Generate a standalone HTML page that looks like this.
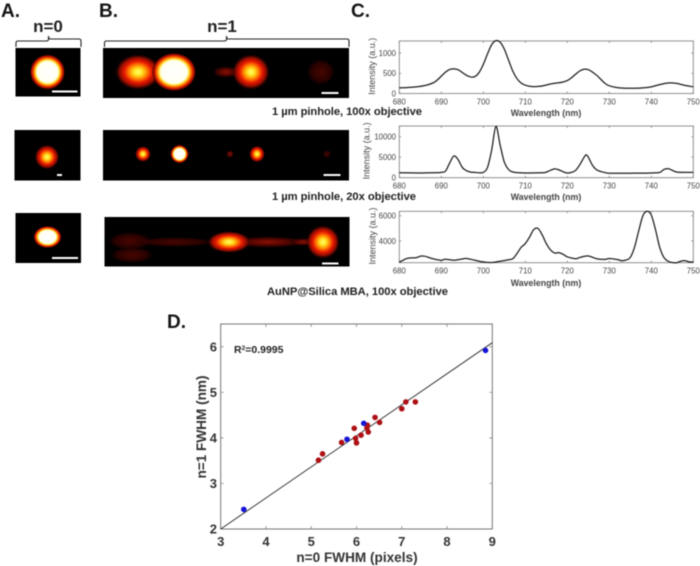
<!DOCTYPE html>
<html lang="en">
<head>
<meta charset="utf-8">
<title>Plasmonic nanoparticle imaging and spectra figure</title>
<style>
html,body{margin:0;padding:0;background:#fff;width:700px;height:566px;overflow:hidden}
svg{display:block;filter:blur(.4px)}
text{font-family:"Liberation Sans",Arial,sans-serif}
</style>
</head>
<body>
<svg id="fig" xmlns="http://www.w3.org/2000/svg" width="700" height="566" viewBox="0 0 700 566">
<defs>
<radialGradient id="sat"><stop offset="0" stop-color="#fff"/><stop offset=".6" stop-color="#fffff0"/><stop offset=".68" stop-color="#ffe840"/><stop offset=".76" stop-color="#ff8a00"/><stop offset=".86" stop-color="#e01c00"/><stop offset=".95" stop-color="#6a0800"/><stop offset="1" stop-color="#200" stop-opacity="0"/></radialGradient>
<radialGradient id="yel"><stop offset="0" stop-color="#ffff70"/><stop offset=".2" stop-color="#ffe020"/><stop offset=".4" stop-color="#ff8000"/><stop offset=".6" stop-color="#e81800"/><stop offset=".8" stop-color="#8a0c00"/><stop offset="1" stop-color="#200" stop-opacity="0"/></radialGradient>
<radialGradient id="org"><stop offset="0" stop-color="#ff5000"/><stop offset=".4" stop-color="#b81000"/><stop offset=".75" stop-color="#500400"/><stop offset="1" stop-color="#200" stop-opacity="0"/></radialGradient>
<radialGradient id="dim"><stop offset="0" stop-color="#8a1004"/><stop offset=".6" stop-color="#480400"/><stop offset="1" stop-color="#200" stop-opacity="0"/></radialGradient>
<radialGradient id="faint"><stop offset="0" stop-color="#560600" stop-opacity=".85"/><stop offset=".7" stop-color="#3a0300" stop-opacity=".7"/><stop offset="1" stop-color="#200" stop-opacity="0"/></radialGradient>
</defs>
<rect width="700" height="566" fill="#fff"/>

<g fill="#151515" font-weight="700" font-size="19">
<text x="1" y="17">A.</text>
<text x="99" y="17">B.</text>
<text x="351" y="17">C.</text>
<text x="167" y="328">D.</text>
</g>
<text x="48" y="32" text-anchor="middle" font-size="17" font-weight="700" fill="#222">n=0</text>
<text x="222" y="32" text-anchor="middle" font-size="17" font-weight="700" fill="#222">n=1</text>
<path d="M16,47V43q0-2 2-2H46.5q2,0 2-2V36q0,3 2,3H79q2,0 2,2V47" fill="none" stroke="#222" stroke-width="1.1"/>
<path d="M104.5,47V43q0-2 2-2H224.5q2,0 2-2V36q0,3 2,3H347q2,0 2,2V47" fill="none" stroke="#222" stroke-width="1.1"/>

<g>
<rect x="15.5" y="48" width="65" height="48.5" fill="#000"/>
<ellipse cx="47.5" cy="72" rx="17.5" ry="17.5" fill="url(#sat)"/>
<rect x="52" y="90.5" width="25.5" height="2" fill="#fff"/>
</g>
<g>
<rect x="103" y="48" width="246" height="50" fill="#000"/>
<ellipse cx="138" cy="72" rx="23" ry="18" fill="url(#yel)"/>
<ellipse cx="226" cy="72" rx="14" ry="6" fill="url(#dim)"/>
<ellipse cx="174" cy="72" rx="22" ry="19" fill="url(#sat)"/>
<ellipse cx="251" cy="72" rx="19" ry="18" fill="url(#yel)"/>
<ellipse cx="321" cy="72" rx="14" ry="13" fill="url(#faint)"/>
<rect x="321.5" y="92" width="17" height="2" fill="#fff"/>
</g>
<g>
<rect x="14.5" y="130" width="66" height="50.5" fill="#000"/>
<ellipse cx="47" cy="157" rx="12.5" ry="12.5" fill="url(#yel)"/>
<rect x="57" y="174" width="5" height="2" fill="#fff"/>
</g>
<g>
<rect x="103" y="130" width="246" height="50.5" fill="#000"/>
<ellipse cx="143" cy="154" rx="8" ry="8" fill="url(#yel)"/>
<ellipse cx="179.5" cy="154" rx="11.5" ry="3" fill="url(#org)"/>
<ellipse cx="179.5" cy="154" rx="3" ry="11.5" fill="url(#org)"/>
<ellipse cx="179.5" cy="154" rx="9" ry="9" fill="url(#sat)"/>
<ellipse cx="230" cy="154" rx="4" ry="4" fill="url(#dim)"/>
<ellipse cx="257" cy="154" rx="8" ry="8.5" fill="url(#yel)"/>
<ellipse cx="327" cy="154" rx="4" ry="4" fill="url(#faint)"/>
<rect x="323.5" y="174" width="17" height="2" fill="#fff"/>
</g>
<g>
<rect x="15.5" y="213" width="65.5" height="50" fill="#000"/>
<ellipse cx="47.5" cy="237" rx="14" ry="11" fill="url(#sat)"/>
<rect x="52" y="257" width="26" height="2" fill="#fff"/>
</g>
<g>
<rect x="104.5" y="217" width="245" height="49.5" fill="#000"/>
<ellipse cx="130" cy="241" rx="22" ry="9" fill="url(#faint)"/>
<ellipse cx="132" cy="255" rx="22" ry="8" fill="url(#faint)"/>
<ellipse cx="175" cy="242" rx="40" ry="5" fill="url(#faint)"/>
<ellipse cx="268" cy="242" rx="40" ry="6" fill="url(#dim)"/>
<ellipse cx="303" cy="242" rx="14" ry="4" fill="url(#dim)"/>
<ellipse cx="229" cy="242" rx="22" ry="11" fill="url(#yel)"/>
<ellipse cx="323" cy="242" rx="17" ry="17" fill="url(#yel)"/>
<rect x="322" y="262.5" width="16.5" height="2" fill="#fff"/>
</g>

<g fill="#222" font-weight="700" font-size="11.2">
<text x="272" y="115" textLength="150">1 µm pinhole, 100x objective</text>
<text x="272" y="200" textLength="144">1 µm pinhole, 20x objective</text>
<text x="267" y="295" textLength="181">AuNP@Silica MBA, 100x objective</text>
</g>
<g id="charts"></g>
</svg>
<script>
const spectrumTopWavelengths = [680,682,684,686,688,689,690,691,692,693,694,695,696,697,698,699,700,701,702,703,704,705,706,707,708,709,710,711,712,713,714,715,716,717,718,719,720,721,722,723,724,725,726,727,728,729,730,732,734,736,738,740,742,744,746,748,750];
const spectrumTopIntensity = [140,150,165,195,260,330,430,530,595,610,590,520,450,410,420,520,720,980,1210,1310,1270,1100,830,560,370,260,205,180,170,175,185,210,235,255,265,285,320,390,480,560,600,590,530,450,350,250,190,145,130,130,140,165,220,260,250,200,165];
const spectrumMiddleWavelengths = [680,685,688,690,691,692,693,694,695,696,697,698,699,700,701,702,703,704,705,706,707,708,710,714,715,716,717,718,719,720,721,722,723,724,724.5,725,726,727,728,729,730,735,740,742,743,744,745,746,748,750];
const spectrumMiddleIntensity = [1200,1150,1200,1300,1600,3600,5300,4400,2500,1700,1350,1300,1200,1300,2500,6800,12500,8000,3800,2000,1400,1250,1150,1200,1350,1800,2150,1900,1450,1150,1300,1800,3200,5000,5600,5000,3000,1900,1500,1250,1100,1100,1150,1300,2000,2200,1800,1400,1300,1300];
const spectrumBottomWavelengths = [680,681,682,684,685,686,688,690,691,693,695,696,698,700,702,704,706,707,708,709,710,711,712,713,714,715,716,717,718,719,720,722,723,725,727,729,730,732,733,734,735,736,737,738,739,740,741,742,743,744,745,746,747,748,749,750];
const spectrumBottomIntensity = [2320,2500,2640,2680,2800,2800,2600,2480,2560,2480,2580,2620,2480,2340,2300,2400,2520,2600,3000,3500,3800,4300,4900,5000,4500,3800,3300,3050,3080,2950,2750,2600,2700,2820,2600,2550,2620,2530,2440,2500,2700,3500,4800,6000,6350,6050,4900,3500,2700,2400,2300,2280,2400,2450,2350,2340];
const wavelengthTicks = [680,690,700,710,720,730,740,750];
const spectrumTopTicks = [0,500,1000];
const spectrumMiddleTicks = [0,5000,10000];
const spectrumBottomTicks = [4000,6000];
const redFwhmPixels = [5.16,5.25,5.67,5.95,5.98,6.00,6.10,6.23,6.24,6.26,6.41,6.51,7.00,7.09,7.30];
const redFwhmNm = [3.51,3.65,3.90,4.21,3.99,3.89,4.06,4.22,4.28,4.13,4.45,4.34,4.64,4.79,4.79];
const blueFwhmPixels = [3.51,5.79,6.16,8.85];
const blueFwhmNm = [2.43,3.97,4.32,5.92];
const fitLineX = [3,9];
const fitLineY = [2.0,6.09];
const scatterXTicks = [3,4,5,6,7,8,9];
const scatterYTicks = [2,3,4,5,6];

const root = document.getElementById('charts');
const NS = 'http://www.w3.org/2000/svg';
function mk(tag, attrs, parent, txt) {
  const el = document.createElementNS(NS, tag);
  for (const k in attrs) el.setAttribute(k, attrs[k]);
  if (txt !== undefined) el.textContent = txt;
  parent.appendChild(el);
  return el;
}
function linear(d0, d1, r0, r1) {
  return v => r0 + (v - d0) / (d1 - d0) * (r1 - r0);
}
function smoothPath(xs, ys) {
  let d = 'M' + xs[0].toFixed(2) + ',' + ys[0].toFixed(2);
  for (let i = 0; i < xs.length - 1; i++) {
    const a = Math.max(i - 1, 0), b = Math.min(i + 2, xs.length - 1);
    const c1x = xs[i] + (xs[i + 1] - xs[a]) / 6, c1y = ys[i] + (ys[i + 1] - ys[a]) / 6;
    const c2x = xs[i + 1] - (xs[b] - xs[i]) / 6, c2y = ys[i + 1] - (ys[b] - ys[i]) / 6;
    d += 'C' + c1x.toFixed(2) + ',' + c1y.toFixed(2) + ' ' + c2x.toFixed(2) + ',' + c2y.toFixed(2) + ' ' + xs[i + 1].toFixed(2) + ',' + ys[i + 1].toFixed(2);
  }
  return d;
}
function spectrum(name, wl, vals, yTicks, dom, top, bottom, xLabelY, xTitleY, yTitleX) {
  const g = mk('g', {}, root);
  
  
  const L = 399.3, R = 693.3;
  const x = linear(680, 750, L, R), y = linear(dom[0], dom[1], bottom, top);
  const box = mk('rect', {x: L, y: top, width: R - L, height: bottom - top, fill: 'none', stroke: '#777', 'stroke-width': .8}, g);
  
  
  wavelengthTicks.forEach(t => {
    const tick = mk('path', {d: 'M' + x(t) + ',' + bottom + 'v-2M' + x(t) + ',' + top + 'v2', stroke: '#777', 'stroke-width': .7}, g);
    
    
    const lab = mk('text', {x: x(t), y: xLabelY, 'text-anchor': 'middle', 'font-size': 7.8, fill: '#444'}, g, t);
    
    
  });
  yTicks.forEach(t => {
    const tick = mk('path', {d: 'M' + L + ',' + y(t) + 'h2M' + R + ',' + y(t) + 'h-2', stroke: '#777', 'stroke-width': .7}, g);
    
    
    const lab = mk('text', {x: 396, y: y(t) + 2.8, 'text-anchor': 'end', 'font-size': 7.8, fill: '#444'}, g, t);
    
    
  });
  const xt = mk('text', {x: 546, y: xTitleY, 'text-anchor': 'middle', 'font-size': 8.8, 'font-weight': 700, fill: '#444'}, g, 'Wavelength (nm)');
  
  
  const cy = (top + bottom) / 2 - 1;
  const yt = mk('text', {x: yTitleX, y: cy, 'text-anchor': 'middle', 'font-size': 9, fill: '#444', transform: 'rotate(-90 ' + yTitleX + ' ' + cy + ')'}, g, 'Intensity (a.u.)');
  
  
  const line = mk('path', {d: smoothPath(wl.map(x), vals.map(y)), fill: 'none', stroke: '#1c1c1c', 'stroke-width': 1.25, 'stroke-linejoin': 'round'}, g);
  
  
}
spectrum('spectrum-100x-pinhole', spectrumTopWavelengths, spectrumTopIntensity, spectrumTopTicks, [0, 1300], 41, 93.5, 104.5, 116, 375);
spectrum('spectrum-20x-pinhole', spectrumMiddleWavelengths, spectrumMiddleIntensity, spectrumMiddleTicks, [0, 12600], 126, 177.7, 188.7, 200, 369.5);
spectrum('spectrum-aunp-silica', spectrumBottomWavelengths, spectrumBottomIntensity, spectrumBottomTicks, [2285, 6350], 211.3, 262.7, 273.5, 286, 375.5);

(function scatter() {
  const g = mk('g', {}, root);
  
  
  const L = 220.7, R = 492.3, T = 324, B = 529;
  const x = linear(3, 9, L, R), y = linear(2, 6.5, B, T);
  const box = mk('rect', {x: L, y: T, width: R - L, height: B - T, fill: 'none', stroke: '#666', 'stroke-width': .9}, g);
  
  
  scatterXTicks.forEach(t => {
    const tick = mk('path', {d: 'M' + x(t) + ',' + B + 'v-3M' + x(t) + ',' + T + 'v3', stroke: '#777', 'stroke-width': .7}, g);
    
    
    const lab = mk('text', {x: x(t), y: 546, 'text-anchor': 'middle', 'font-size': 13, 'font-weight': 700, fill: '#333'}, g, t);
    
    
  });
  scatterYTicks.forEach(t => {
    const tick = mk('path', {d: 'M' + L + ',' + y(t) + 'h3M' + R + ',' + y(t) + 'h-3', stroke: '#777', 'stroke-width': .7}, g);
    
    
    const lab = mk('text', {x: 217, y: y(t) + 4.5, 'text-anchor': 'end', 'font-size': 13, 'font-weight': 700, fill: '#333'}, g, t);
    
    
  });
  const xt = mk('text', {x: 357, y: 562, 'text-anchor': 'middle', 'font-size': 13.6, 'font-weight': 700, fill: '#333'}, g, 'n=0 FWHM (pixels)');
  
  
  const yt = mk('text', {x: 206, y: 427, 'text-anchor': 'middle', 'font-size': 13.6, 'font-weight': 700, fill: '#333', transform: 'rotate(-90 206 427)'}, g, 'n=1 FWHM (nm)');
  
  
  const r2 = mk('text', {x: 234, y: 353, 'font-size': 10.5, 'font-weight': 700, fill: '#222'}, g);
  
  
  r2.appendChild(document.createTextNode('R'));
  mk('tspan', {dy: -3, 'font-size': 6.5}, r2, '2');
  mk('tspan', {dy: 3}, r2, '=0.9995');
  const fit = mk('line', {x1: x(fitLineX[0]), y1: y(fitLineY[0]), x2: x(fitLineX[1]), y2: y(fitLineY[1]), stroke: '#333', 'stroke-width': 1}, g);
  
  
  redFwhmPixels.forEach((v, i) => {
    const p = mk('circle', {cx: x(v), cy: y(redFwhmNm[i]), r: 2.8, fill: '#ae1014'}, g);
    
    
  });
  blueFwhmPixels.forEach((v, i) => {
    const p = mk('circle', {cx: x(v), cy: y(blueFwhmNm[i]), r: 2.8, fill: '#1414d8'}, g);
    
    
  });
})();
</script>
</body>
</html>
